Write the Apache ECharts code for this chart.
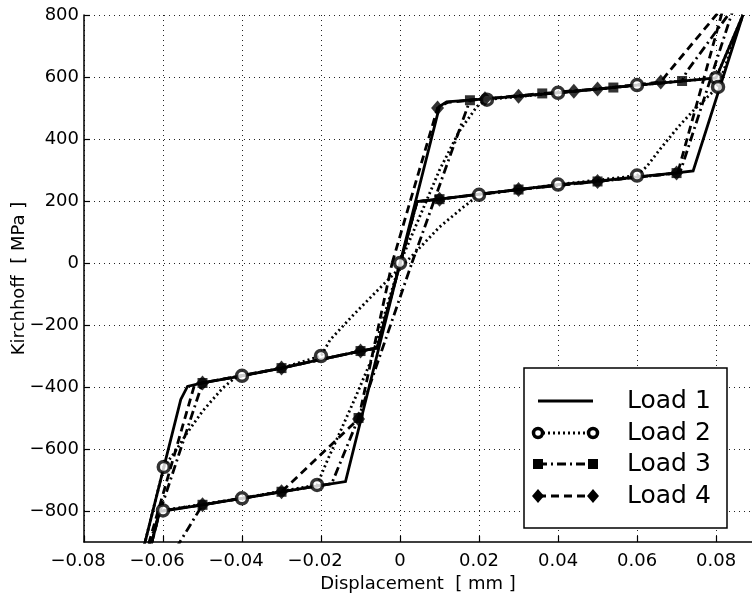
<!DOCTYPE html>
<html>
<head>
<meta charset="utf-8">
<script src="https://cdn.jsdelivr.net/npm/echarts@6/dist/echarts.min.js"></script>
<style>
  html, body { margin: 0; padding: 0; background: #fff; }
  #chart { width: 752px; height: 600px; }
</style>
</head>
<body>
<div id="chart"></div>
<script>
// tick positions
const xTicks = [-0.08, -0.06, -0.04, -0.02, 0, 0.02, 0.04, 0.06, 0.08];
const yTicks = [-800, -600, -400, -200, 0, 200, 400, 600, 800];

// Load 1 : solid
const load1X = [0, 0.0100, 0.0118, 0.02, 0.03, 0.04, 0.05, 0.06, 0.07, 0.08, 0.0868,
  0.0742, 0.07, 0.06, 0.05, 0.04, 0.03, 0.02, 0.01, 0.0043,
  -0.0058, -0.01, -0.02, -0.03, -0.04, -0.05, -0.0538, -0.0555, -0.0665,
  -0.0648, -0.0608, -0.06, -0.05, -0.04, -0.03, -0.02, -0.0138, 0];
const load1Y = [0, 505, 520, 528, 538, 549, 561, 574, 585, 597, 800,
  297, 291, 278, 264, 253, 237, 222, 206, 198,
  -274, -284, -311, -339, -364, -387, -398, -440, -1000,
  -1000, -800, -800, -780, -759, -738, -717, -705, 0];

// Load 2 : dotted, circles
const load2X = [0, 0.005, 0.01, 0.015, 0.0195, 0.022, 0.04, 0.06, 0.08, 0.0868,
  0.0805, 0.0745, 0.0705, 0.066, 0.0625, 0.06, 0.04, 0.03, 0.02, 0.016, 0.01, 0.0025,
  -0.0056, -0.012, -0.0177, -0.02, -0.03, -0.04, -0.042, -0.045, -0.05, -0.054, -0.057, -0.0598, -0.0665,
  -0.0648, -0.0608, -0.06, -0.04, -0.021, -0.0185, -0.015, -0.0115, -0.0075, -0.004, 0];
const load2Y = [0, 150, 300, 425, 505, 527, 549, 574, 597, 800,
  568, 495, 440, 370, 312, 282, 253, 237, 220, 180, 116, 16,
  -87, -170, -248, -300, -339, -364, -372, -405, -478, -550, -610, -658, -1000,
  -1000, -800, -798, -759, -716, -640, -540, -440, -320, -170, 0];
const circleX = [0, 0.022, 0.04, 0.06, 0.08, 0.0805, 0.06, 0.04, 0.02, -0.02, -0.04, -0.0598, -0.06, -0.04, -0.021];
const circleY = [0, 527, 549, 574, 597, 568, 282, 253, 220, -300, -364, -658, -798, -759, -716];

// Load 3 : dash-dot, squares
const load3X = [0.003, 0.0177, 0.036, 0.054, 0.0714, 0.0725, 0.0845,
  0.0711, 0.07, 0.05, 0.03, 0.01, 0.0043, -0.0058, -0.01, -0.03, -0.05, -0.0672,
  -0.0605, -0.05, -0.03, -0.0173, -0.0105, 0.003];
const load3Y = [0, 525, 547, 566, 587, 616, 825,
  300, 290, 263, 237, 206, 198, -274, -284, -339, -387, -1050,
  -1000, -780, -738, -712, -500, 0];
const squareX = [0.0177, 0.036, 0.054, 0.0714, 0.07, 0.05, 0.03, 0.01, -0.01, -0.03, -0.05, -0.05, -0.03, -0.0105];
const squareY = [525, 547, 566, 587, 290, 263, 237, 206, -284, -339, -387, -780, -738, -500];

// Load 4 : dashed, diamonds
const load4X = [-0.002, 0.0095, 0.012, 0.02, 0.0215, 0.03, 0.044, 0.05, 0.066, 0.068, 0.082,
  0.0705, 0.07, 0.05, 0.03, 0.01, 0.0043, -0.0058, -0.01, -0.03, -0.05, -0.052, -0.0669,
  -0.0648, -0.0608, -0.05, -0.03, -0.0105, -0.002];
const load4Y = [0, 500, 518, 528, 530, 538, 554, 561, 584, 616, 830,
  300, 290, 263, 237, 206, 198, -274, -284, -339, -387, -392, -1050,
  -1000, -800, -780, -738, -503, 0];
const diamondX = [0.0095, 0.0215, 0.03, 0.044, 0.05, 0.066, 0.07, 0.05, 0.03, 0.01, -0.01, -0.03, -0.05, -0.05, -0.03, -0.0105];
const diamondY = [500, 530, 538, 554, 561, 584, 290, 263, 237, 206, -284, -339, -387, -780, -738, -503];

const legendNames = ['Load 1', 'Load 2', 'Load 3', 'Load 4'];

const FONT = 'DejaVu Sans';
const pts = (xs, ys) => xs.map((x, i) => [x, ys[i]]);
const minus = s => s.replace('-', '\u2212');

function curve(name, xs, ys, dash) {
  return {
    name: name, type: 'line', data: pts(xs, ys),
    symbol: 'none', showSymbol: false, clip: true, silent: true,
    lineStyle: { color: '#000', width: 2.8, type: dash, cap: 'butt', join: 'miter' },
    z: 2
  };
}
function marks(xs, ys, symbol, size, style) {
  return {
    type: 'scatter', data: pts(xs, ys), symbol: symbol, symbolSize: size,
    itemStyle: style, silent: true, z: 3
  };
}

// legend drawn as a boxed panel like the original
const legX = 524, legY = 368, legW = 203, legH = 160;
const rowY = [401, 433, 464, 496];
const legDash = [null, [2, 3], [9, 4, 2, 4], [8, 5]];
const legendGraphics = [{
  type: 'rect', shape: { x: legX, y: legY, width: legW, height: legH },
  style: { fill: '#fff', stroke: '#000', lineWidth: 1.5 }, z: 100
}];
legendNames.forEach((n, i) => {
  legendGraphics.push({
    type: 'line', shape: { x1: 538, y1: rowY[i], x2: 593, y2: rowY[i] },
    style: { stroke: '#000', lineWidth: 2.8, lineDash: legDash[i] }, z: 101
  });
  legendGraphics.push({
    type: 'text', x: 627, y: rowY[i],
    style: { text: n, font: '25px "' + FONT + '"', fill: '#000', verticalAlign: 'middle' }, z: 101
  });
});
[538, 593].forEach(cx => {
  legendGraphics.push({ type: 'circle', shape: { cx: cx, cy: rowY[1], r: 4.5 },
    style: { fill: '#fff', stroke: '#000', lineWidth: 3.5 }, z: 102 });
  legendGraphics.push({ type: 'rect', shape: { x: cx - 5, y: rowY[2] - 5, width: 10, height: 10 },
    style: { fill: '#000' }, z: 102 });
  legendGraphics.push({ type: 'polygon',
    shape: { points: [[cx, rowY[3] - 7], [cx + 6, rowY[3]], [cx, rowY[3] + 7], [cx - 6, rowY[3]]] },
    style: { fill: '#000' }, z: 102 });
});

const chart = echarts.init(document.getElementById('chart'), null, { renderer: 'canvas' });
chart.setOption({
  animation: false,
  backgroundColor: '#fff',
  grid: { left: 84, right: 0, top: 15, bottom: 58, containLabel: false, outerBoundsMode: 'none' },
  xAxis: {
    type: 'value', min: -0.08, max: 0.0891,
    name: 'Displacement  [ mm ]', nameLocation: 'middle', nameGap: 33, nameMoveOverlap: false,
    nameTextStyle: { color: '#000', fontSize: 18, fontFamily: FONT },
    axisLine: { show: true, onZero: false, lineStyle: { color: '#000', width: 1.5 } },
    axisTick: { show: true, inside: true, length: 6, customValues: xTicks, lineStyle: { color: '#000', width: 1.2 } },
    axisLabel: {
      customValues: xTicks, color: '#000', fontSize: 18, fontFamily: FONT, margin: 10,
      formatter: v => v === 0 ? '0' : (v < 0 ? '{n|' + minus(v.toFixed(2)) + '}' : v.toFixed(2)),
      rich: { n: { fontSize: 18, fontFamily: FONT, color: '#000', padding: [0, 12, 0, 0] } }
    },
    splitLine: { show: true, lineStyle: { color: '#222', width: 1, type: [1, 4] } }
  },
  yAxis: {
    type: 'value', min: -900, max: 800,
    name: 'Kirchhoff  [ MPa ]', nameLocation: 'middle', nameGap: 56, nameMoveOverlap: false,
    nameTextStyle: { color: '#000', fontSize: 18, fontFamily: FONT },
    axisLine: { show: true, onZero: false, lineStyle: { color: '#000', width: 1.5 } },
    axisTick: { show: true, inside: true, length: 6, customValues: yTicks, lineStyle: { color: '#000', width: 1.2 } },
    axisLabel: {
      customValues: yTicks, color: '#000', fontSize: 18, fontFamily: FONT, margin: 5,
      formatter: v => minus(String(v))
    },
    splitLine: { show: true, lineStyle: { color: '#222', width: 1, type: [1, 4] } }
  },
  series: [
    curve('Load 1', load1X, load1Y, 'solid'),
    curve('Load 2', load2X, load2Y, [2, 3]),
    curve('Load 3', load3X, load3Y, [9, 4, 2, 4]),
    curve('Load 4', load4X, load4Y, [8, 5]),
    marks(circleX, circleY, 'circle', 11, { color: '#fff', borderColor: '#000', borderWidth: 3.5 }),
    marks(squareX, squareY, 'rect', 10, { color: '#000' }),
    marks(diamondX, diamondY, 'diamond', [13, 15], { color: '#000' })
  ],
  graphic: legendGraphics
});
</script>
</body>
</html>
